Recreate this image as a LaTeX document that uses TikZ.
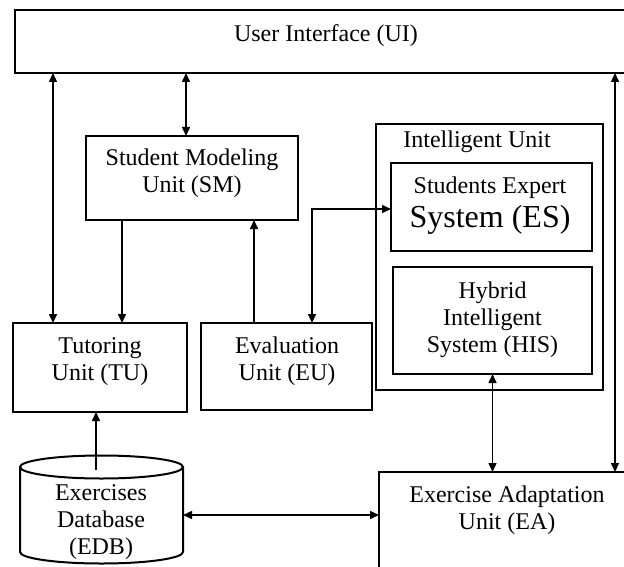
\documentclass[tikz,border=0pt]{standalone}
\usepackage{fontspec}
\setmainfont{Liberation Serif}
\usetikzlibrary{arrows.meta,calc}

\begin{document}
\begin{tikzpicture}[x=0.5pt,y=-0.5pt,
  box/.style={draw,line width=1pt,inner sep=0pt,outer sep=0pt},
  hidden/.style={inner sep=0pt,outer sep=0pt},
  txt/.style={font=\fontsize{12}{13.5}\selectfont,align=center,inner sep=0pt},
  tip/.tip={Triangle[length=4.5pt,width=4pt]},
  link/.style={line width=0.75pt,-tip},
  dlink/.style={line width=0.75pt,tip-tip}]

\useasboundingbox (0,0) rectangle (624,566);

% boxes
\node[box,minimum width=312.5pt,minimum height=31.5pt] (ui)  at (327.5,41.5) {};
\node[box,minimum width=106pt,minimum height=42pt]     (sm)  at (192,178) {};
\node[box,minimum width=87pt,minimum height=44.5pt]    (tu)  at (100,367.5) {};
\node[box,minimum width=85.5pt,minimum height=43.5pt]  (eu)  at (286.5,366.5) {};
\node[box,minimum width=113.5pt,minimum height=133pt]  (iu)  at (489.5,257) {};
\node[box,minimum width=100.5pt,minimum height=44pt]   (es)  at (491.5,207) {};
\node[box,minimum width=99.5pt,minimum height=53.5pt]  (his) at (492.5,320.5) {};
\node[box,minimum width=130.5pt,minimum height=64pt]   (ea)  at (509.5,536) {};

% database cylinder
\node[hidden,minimum width=81.5pt,minimum height=42.5pt] (edb) at (101.5,509.5) {};
\draw[line width=1pt] (edb.north west) -- (edb.south west)
  arc[start angle=180,end angle=360,x radius=40.75pt,y radius=5.75pt]
  -- (edb.north east)
  arc[start angle=0,end angle=360,x radius=40.75pt,y radius=5.75pt];

% texts
\node[txt] (ui-t)  at (326,36) {User Interface (UI)};
\node[txt] (sm-t)  at (192,173.5) {Student Modeling\\Unit (SM)};
\node[txt] (tu-t)  at (100,361.5) {Tutoring\\Unit (TU)};
\node[txt] (eu-t)  at (287,361.5) {Evaluation\\Unit (EU)};
\node[txt,anchor=west] (iu-t) at (403,142) {Intelligent Unit};
\node[txt,font=\fontsize{12}{17}\selectfont] (es-t) at (490,206)
  {Students Expert\\{\fontsize{16}{17}\selectfont System (ES)}};
\node[txt] (his-t) at (492.5,319.5) {Hybrid\\Intelligent\\System (HIS)};
\node[txt] (ea-t)  at (507,510) {Exercise Adaptation\\Unit (EA)};
\node[txt] (edb-t) at (101,522.5) {Exercises\\Database\\(EDB)};

% connectors
\coordinate (a1) at ([xshift=20pt]tu.north west);
\draw[dlink] (ui.south -| a1) -- (a1);
\coordinate (a2) at ([xshift=-3pt]sm.north);
\draw[dlink] (ui.south -| a2) -- (a2);
\coordinate (a3) at ([xshift=118pt]ea.north west);
\draw[dlink] (ui.south -| a3) -- (a3);
\coordinate (a4) at ([xshift=18pt]sm.south west);
\draw[link] (a4) -- (a4 |- tu.north);
\coordinate (a5) at ([xshift=26.5pt]eu.north west);
\draw[link] (a5) -- (a5 |- sm.south);
\coordinate (a6) at ([xshift=55.5pt]eu.north west);
\draw[dlink] (a6) |- ([yshift=-1pt]es.west);
\draw[dlink] (his.south) -- (his.south |- ea.north);
\coordinate (a7) at ([xshift=-2.75pt,yshift=-1.5pt]edb.north);
\draw[link] (a7) -- (a7 |- tu.south);
\coordinate (a8) at ([yshift=-2.75pt]edb.east);
\draw[dlink] (a8) -- (a8 -| ea.west);
\end{tikzpicture}
\end{document}
